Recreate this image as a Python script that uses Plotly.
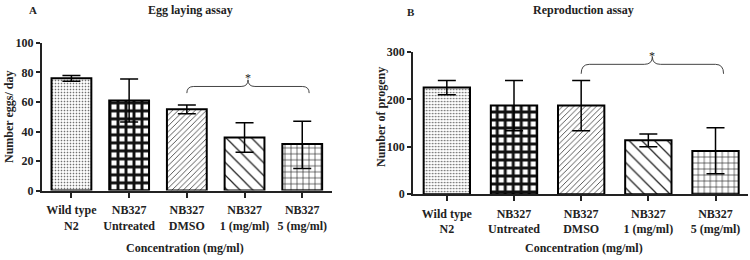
import plotly.graph_objects as go

categories = ["Wild type<br>N2", "NB327<br>Untreated", "NB327<br>DMSO", "NB327<br>1 (mg/ml)", "NB327<br>5 (mg/ml)"]

# Panel A: egg laying (eggs/day)
egg_mean = [76, 61, 55, 36, 31.5]
egg_err_up = [2, 14.5, 3, 10, 15.5]
egg_err_down = [2, 14.5, 3, 10, 16.5]

# Panel B: reproduction (number of progeny)
prog_mean = [225, 187, 187, 114, 91]
prog_err_up = [15, 53, 53, 13, 49]
prog_err_down = [15, 53, 53, 14, 48]

# significance bracket (category index span and heights)
brk_from, brk_to = 2, 4.12
egg_brk = (66, 70.5, 75, 82)      # ends, line, peak, star
prog_brk = (254, 274, 290, 311)

FONT = "Liberation Serif, Times New Roman, serif"

pat_shapes = [".", "+", "/", "\\", "+"]
pat_sizes = [3, 8, 4, 9, 6]
pat_solid = [0.25, 0.6, 0.2, 0.14, 0.2]
pat_fg = ["#666666", "#111111", "#333333", "#222222", "#222222"]

DOM_A = ([0.056, 0.443], [0.267, 0.835], [0, 100])
DOM_B = ([0.551, 0.997], [0.253, 0.8], [0, 300])

fig = go.Figure()
xs = list(range(len(categories)))

def add_panel(vals, up, dn, xa, ya):
    fig.add_trace(go.Bar(
        x=xs, y=vals, xaxis=xa, yaxis=ya, width=0.69,
        marker=dict(color="white", line=dict(color="black", width=2),
                    pattern=dict(shape=pat_shapes, size=pat_sizes, solidity=pat_solid,
                                 fgcolor=pat_fg, bgcolor="white", fillmode="replace")),
        error_y=dict(type="data", symmetric=False, array=up, arrayminus=dn,
                     color="black", thickness=1.5, width=9),
        showlegend=False, hoverinfo="skip",
    ))

add_panel(egg_mean, egg_err_up, egg_err_down, "x", "y")
add_panel(prog_mean, prog_err_up, prog_err_down, "x2", "y2")

def bracket(xref, yref, b, dom):
    e, l, p, s = b
    x0, x1 = brk_from, brk_to
    xc = (x0 + x1) / 2
    dx = 0.12
    path = (f"M {x0},{e} Q {x0},{l} {x0+dx},{l} L {xc-dx},{l} Q {xc},{l} {xc},{p} "
            f"Q {xc},{l} {xc+dx},{l} L {x1-dx},{l} Q {x1},{l} {x1},{e}")
    fig.add_shape(type="path", path=path, xref=xref, yref=yref,
                  line=dict(color="#444444", width=1))
    ydom, yr = dom[1], dom[2]
    ypaper = ydom[0] + (s - yr[0]) / (yr[1] - yr[0]) * (ydom[1] - ydom[0])
    fig.add_annotation(x=xc, y=ypaper, xref=xref, yref="paper", text="*", showarrow=False,
                       font=dict(family=FONT, size=12, color="#222222"))

bracket("x", "y", egg_brk, DOM_A)
bracket("x2", "y2", prog_brk, DOM_B)

axis_common = dict(showline=True, linecolor="#222", linewidth=2, ticks="outside",
                   tickcolor="#222", tickwidth=1.5, showgrid=False, zeroline=False,
                   automargin=False, fixedrange=True,
                   tickfont=dict(family=FONT, size=12, color="#222"))

xt = dict(tickmode="array", tickvals=xs, ticktext=[f"<b>{c}</b>" for c in categories],
          ticklen=5, ticklabelstandoff=2)

fig.update_layout(
    width=750, height=260, margin=dict(l=0, r=0, t=0, b=0),
    plot_bgcolor="white", paper_bgcolor="white", bargap=0.3,
    xaxis=dict(domain=DOM_A[0], range=[-0.51, 4.52], anchor="y", **xt, **axis_common),
    yaxis=dict(domain=DOM_A[1], range=DOM_A[2], anchor="x", tickvals=[0, 20, 40, 60, 80, 100],
               ticktext=[f"<b>{v}</b>" for v in [0, 20, 40, 60, 80, 100]], ticklen=4, **axis_common),
    xaxis2=dict(domain=DOM_B[0], range=[-0.5, 4.48], anchor="y2", **xt, **axis_common),
    yaxis2=dict(domain=DOM_B[1], range=DOM_B[2], anchor="x2", tickvals=[0, 100, 200, 300],
                ticktext=[f"<b>{v}</b>" for v in [0, 100, 200, 300]], ticklen=4, **axis_common),
)

def txt(x, y, t, size=12, angle=0):
    fig.add_annotation(x=x, y=y, xref="paper", yref="paper", text=f"<b>{t}</b>", showarrow=False,
                       textangle=angle, xanchor="center", yanchor="middle",
                       font=dict(family=FONT, size=size, color="#222"))

H, W = 260, 750
txt(33 / W, 1 - 10 / H, "A", 11)
txt(190 / W, 1 - 10 / H, "Egg laying assay", 12)
txt(411 / W, 1 - 12 / H, "B", 11)
txt(583 / W, 1 - 10 / H, "Reproduction assay", 12)
txt(185 / W, 1 - 248 / H, "Concentration (mg/ml)", 12)
txt(584 / W, 1 - 248 / H, "Concentration (mg/ml)", 12)
txt(9 / W, 1 - 117 / H, "Number eggs/ day", 12, -90)
txt(381 / W, 1 - 117 / H, "Number of progeny", 12, -90)

fig.write_html("out.html", config={"displayModeBar": False},
               post_script="document.body.style.margin='0px';")
